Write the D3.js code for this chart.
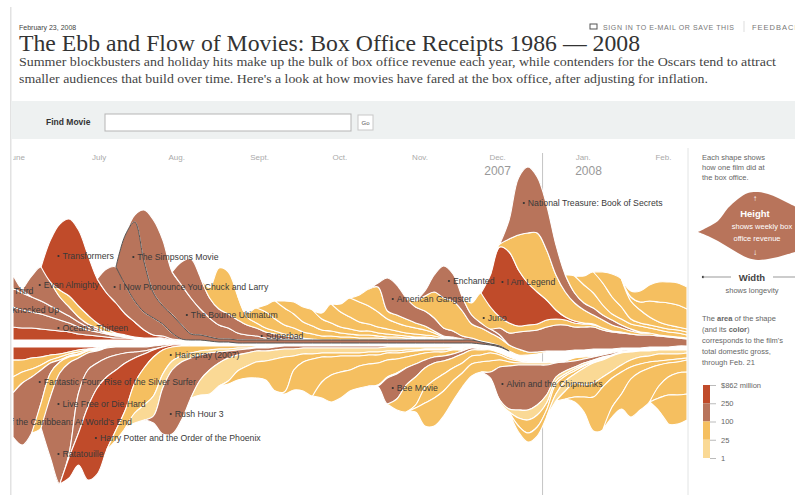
<!DOCTYPE html>
<html>
<head>
<meta charset="utf-8">
<script src="https://cdn.jsdelivr.net/npm/d3@7"></script>
<style>
  html, body { margin: 0; background: #fff; overflow: hidden; }
  svg { display: block; }
  text { font-family: "Liberation Sans", Arial, sans-serif; }
  .serif { font-family: "Liberation Serif", Georgia, serif; }
</style>
</head>
<body>
<div id="container"></div>
<script>
let w = 795;
let h = 495;

// half-week samples, Jun 17 2007 -> Feb 24 2008
let firstWeek = new Date(2007, 5, 17);
let weeks = d3.range(73).map(i => d3.timeHour.offset(firstWeek, i * 84));

let monthDates = ["2007-06-18", "2007-07-19", "2007-08-17", "2007-09-17", "2007-10-17", "2007-11-16", "2007-12-15", "2008-01-16", "2008-02-15"];
let monthNames = ["June", "July", "Aug.", "Sept.", "Oct.", "Nov.", "Dec.", "Jan.", "Feb."];
let yearDates = ["2007-12-15", "2008-01-18"];
let yearNames = ["2007", "2008"];

// white ribbon down the middle of the stream ($ million from the centre)
let upperFloor = [5,5,5,5,5,5,5,5,5,5,5,5,5,5,5,5,5,5,5,5,5,4,3,3,2,2,2,2,2,2,2,2,2,2,2,2,2,2,2,2,2,2,2,2,2,2,2,2,2,2,1,0,-2,-6,-10,-10,-9,-7,-6,-6,-5,-5,-4,-4,-4,-3,-3,-3,-2,-2,-2,-1,-1];
let lowerFloor = [-2,-2,-2,-2,-2,-2,-2,-2,-2,-2,-2,-2,-2,-2,-2,-1,0,1,0,-1,-1,-1,-1,-1,-1,-1,-1,-1,-1,-1,-1,-1,-1,-1,-1,-1,-1,-1,-1,-1,-1,-1,-1,-1,-1,-1,-1,-1,-1,-1,-3,-5,-8,-12,-15,-17,-17,-17,-17,-16,-13,-12,-11,-9,-7,-6,-5,-5,-5,-5,-5,-5,-5];

// films above the centre, earliest release first
let upperNames = ["Spider-Man 3", "Knocked Up", "Shrek the Third", "Ocean's Thirteen", "Evan Almighty", "Sicko", "Transformers", "I Now Pronounce You Chuck and Larry", "The Simpsons Movie", "The Bourne Ultimatum", "Superbad", "Stardust", "Underdog", "Balls of Fury", "3:10 to Yuma", "The Game Plan", "Michael Clayton", "Saw IV", "American Gangster", "Beowulf", "Enchanted", "Charlie Wilson's War", "Juno", "I Am Legend", "The Golden Compass", "National Treasure: Book of Secrets", "The Bucket List", "Cloverfield", "27 Dresses", "Meet the Spartans", "Jumper"];
let upperStarts = [0, 0, 0, 0, 2, 5, 4, 10, 12, 13, 18, 21, 25, 27, 29, 33, 35, 37, 39, 43, 44, 52, 49, 51, 52, 53, 60, 61, 63, 66, 66];
let upperGross = [336, 148, 240, 117, 100, 60, 318, 120, 183, 227, 121, 38, 43, 32, 53, 90, 49, 63, 130, 82, 127, 120, 90, 256, 70, 212, 83, 79, 76, 37, 80];
let upperWeekly = [
  [13,12,12,11,10,9,8,6,5,4,3,2,2,1,1,1,1],
  [20,18,16,15,13,11,9,7,5,4,3,2,1,1,1,1,1],
  [19,17,15,13,11,9,7,5,3,2,1,1,1,1],
  [13,3],
  [21,34,24,14,9,5,3,2,1,1],
  [7,11,11,9,5,3,1,1],
  [42,66,77,76,60,44,36,30,21,15,8,3,2,1],
  [24,36,29,21,18,17,12,6,1],
  [50,79,50,25,18,18,14,6,5,4,3,3,3,3,3,3,3,3,3,3,3,3,3,3,3,3,3,3,3,3,3,3,3,3,3,3,3,3,2,1,1],
  [7,52,73,66,43,40,36,26,19,14,11,7,5,4,2,2,1,1],
  [23,39,32,20,16,14,13,10,8,6,4,3,2,1,1],
  [10,41,42,24,8,5,4,3,2,2,1],
  [4,15,16,12,9,7,6,5,4,4,3,3,2,2,2,1,1,1,1,1],
  [7,18,17,14,10,8,6,5,4,3,3,3,2,2,2,1,1,1,1,1],
  [7,12,15,16,11,8,6,5,4,4,3,3,2,2,1,1,1],
  [6,19,15,12,9,7,6,5,4,3,3,2,2,1,1],
  [8,19,20,18,15,10,8,7,6,5,3,1,1],
  [7,17,25,8,8,7,5,4,2,1,1,1],
  [4,33,30,21,16,15,13,8,6,3,2,1,1],
  [6,15,26,30,30,25,14,13,10,8,6,6,3,2,1],
  [5,17,32,27,14,9,5,4,3],
  [7,12,17,21,22,24,26,26,23,23,22,19,17,15,14,13,12,11,10,8,7],
  [12,30,22,11,10,6,6,6,7,6,5,4,3,2,2,1,1],
  [32,70,71,56,42,32,20,9,3,2,1,1],
  [3,13,35,50,59,50,35,25,18,13,9,8,6,4,3,2,2,1,1,1,1],
  [19,57,66,56,45,30,17,10,7,7,5,5,3,2,1],
  [17,18,15,10,6,6,5,6,5,5,4,4,3],
  [9,21,22,17,12,5,3,3,3,3,3,3],
  [11,23,28,18,13,8,5,4,3,3],
  [4,8,16,20,22,22,20],
  [6,11,16,20,21,22,22]
];

// films below the centre
let lowerNames = ["Pirates opening", "Georgia Rule", "Waitress", "Pirates of the Caribbean: At World's End", "Fantastic Four: Rise of the Silver Surfer", "Ratatouille", "Live Free or Die Hard", "Harry Potter and the Order of the Phoenix", "Hairspray", "License to Wed", "Rush Hour 3", "The Nanny Diaries", "The Brave One", "Good Luck Chuck", "The Heartbreak Kid", "Dan in Real Life", "Bee Movie", "Fred Claus", "This Christmas", "August Rush", "Alvin and the Chipmunks", "P.S. I Love You", "Sweeney Todd", "Atonement", "First Sunday", "Mad Money", "The Water Horse", "Rambo", "Untraceable", "Hannah Montana", "Fool's Gold"];
let lowerStarts = [0, 0, 0, 0, 3, 4, 6, 6, 11, 13, 15, 20, 23, 29, 33, 39, 39, 41, 43, 43, 51, 52, 54, 54, 58, 59, 60, 64, 69, 69, 69];
let lowerGross = [336, 48, 40, 240, 90, 206, 134, 292, 90, 20, 140, 20, 36, 35, 36, 47, 126, 72, 49, 31, 217, 20, 52, 50, 20, 60, 40, 42, 28, 65, 70];
let lowerWeekly = [
  [13,13,11,10,8,7,5,3,2,1],
  [17,12,11,8,5,3,2,2,1,1],
  [16,11,8,5,3,3,2,2,1,1],
  [44,62,56,33,10,2,1,1],
  [25,24,11,6,3,2,1,1],
  [61,111,90,35,17,12,10,8,6,5,4,3,2,1],
  [4,40,37,25,19,15,10,6,3,1],
  [21,32,73,86,73,60,47,25,14,7,3,2,1],
  [10,18,30,37,39,24,14,10,7,5,4,3,3,2,2,1,1],
  [10,15,20,14,9,6,5,4,3,3,2,2,1,1,1,1],
  [7,46,64,58,40,25,17,11,7,5,4,3,3,3,3,3,2,2,2,2,2,2,2,2,2,1,1,1,1,1,1,1,1,1],
  [15,24,23,23,16,13,11,10,9,8,7,6,6,5,5,5,5,5,4,4,4,4,3,3,2,2,2,1,1,1,1],
  [3,9,12,16,19,32,35,14,8,5,4,4,3,3,3,3,3,2,2,2,1,1,1,1,1,1],
  [2,20,29,37,25,18,16,14,10,9,8,7,6,5,4,3,2,2,1,1,1],
  [16,27,26,21,22,22,22,17,14,11,9,7,5,4,4,1],
  [1,1,1],
  [1,26,25,17,13,8,6,5,4,3,2,1],
  [11,27,28,20,17,13,10,9,6,5,3,2,2,1],
  [3,15,18,17,13,10,8,7,8,5,3,2,1,1,1],
  [4,23,28,25,20,14,12,10,11,7,4,2,2,2,2,1,1,3,2,1,1,1],
  [6,33,43,45,45,40,30,14,9,6,4,3,2,2,1,1,1,1],
  [2,3,8,10,10,8,4,3,2,2,1,1,1,1,1],
  [8,13,12,7,3,2,2,1,1,1],
  [6,9,9,7,10,5,3,2,1,1],
  [7,10,9,17,20,17,15,12,8,6,5,4,4,4,3],
  [8,14,12,14,10,7,7,7,7,6,7,6,5,5],
  [5,15,34,43,29,22,12,8,6,4,3,3,2],
  [10,15,38,38,34,21,14,11,12],
  [12,18,22,22],
  [13,29,29,26],
  [1]
];

let labelNames = ["Shrek the Third", "Knocked Up", "Ocean's Thirteen", "Transformers", "Evan Almighty", "I Now Pronounce You Chuck and Larry", "The Simpsons Movie", "The Bourne Ultimatum", "Superbad", "American Gangster", "Enchanted", "Juno", "I Am Legend", "National Treasure: Book of Secrets", "Fantastic Four: Rise of the Silver Surfer", "Live Free or Die Hard", "Pirates of the Caribbean: At World's End", "Ratatouille", "Harry Potter and the Order of the Phoenix", "Rush Hour 3", "Hairspray (2007)", "Bee Movie", "Alvin and the Chipmunks"];
let labelDates = ["2007-06-01", "2007-06-15", "2007-07-04", "2007-07-04", "2007-06-27", "2007-07-25", "2007-08-01", "2007-08-21", "2007-09-18", "2007-11-06", "2007-11-27", "2007-12-10", "2007-12-17", "2007-12-25", "2007-06-27", "2007-07-04", "2007-06-02", "2007-07-04", "2007-07-18", "2007-08-15", "2007-08-15", "2007-11-06", "2007-12-17"];
let labelLevels = [54, 35, 17, 89, 60, 58, 88, 30, 9, 46, 64, 27, 63, 142, -37, -59, -77, -109, -93, -69, -10, -43, -39];

let grossBreaks = [25, 100, 250];
let grossTicks = ["$862 million", "250", "100", "25", "1"];

// sample film in the sidebar
let sampleDays = [0, 1, 2, 3, 4, 5, 6, 7, 8, 9, 10];
let sampleTop = [0, 5, 11, 24, 33, 39, 40, 38, 34, 29, 24];
let sampleBottom = [0, 4, 9, 15, 21, 26, 28, 27, 25, 22, 19];

let parseDate = d3.timeParse("%Y-%m-%d");
let red = "#c04b2a", brown = "#b8745b", yellow = "#f5bf60", pale = "#fad995";

let svg = d3.select("#container")
  .append("svg")
  .attr("width", w)
  .attr("height", h)
  .style("background-color", "#fff");

let xScale = d3.scaleTime()
  .domain([firstWeek, weeks[72]])
  .range([13, 687]);

let yScale = d3.scaleLinear()
  .domain([-150, 180])
  .range([495, 165]);

let grossColor = d3.scaleThreshold()
  .domain(grossBreaks)
  .range([pale, yellow, brown, red]);

svg.append("defs").append("clipPath")
  .attr("id", "plot")
  .append("rect")
  .attr("x", 13).attr("y", 140).attr("width", 674).attr("height", 355);

// page furniture
svg.append("rect").attr("x", 10).attr("y", 7).attr("width", 1.5).attr("height", 488).attr("fill", "#e2e2e2");
svg.append("rect").attr("x", 11).attr("y", 101).attr("width", w - 11).attr("height", 38).attr("fill", "#eef1f1");
svg.append("rect").attr("x", 105).attr("y", 114).attr("width", 246).attr("height", 17).attr("fill", "#fff").attr("stroke", "#b5b5b5");
svg.append("rect").attr("x", 358).attr("y", 115).attr("width", 15).attr("height", 15).attr("fill", "#fff").attr("stroke", "#c8c8c8");
svg.append("line").attr("x1", 688).attr("x2", 688).attr("y1", 148).attr("y2", 495).attr("stroke", "#e2e4e4");
svg.append("line").attr("x1", 744).attr("x2", 744).attr("y1", 21).attr("y2", 32).attr("stroke", "#ddd");
svg.append("rect").attr("x", 590).attr("y", 24).attr("width", 7).attr("height", 5).attr("fill", "none").attr("stroke", "#555");

svg.append("text").attr("x", 19).attr("y", 30).attr("font-size", 7).attr("fill", "#444").text("February 23, 2008");
svg.append("text").attr("x", 603).attr("y", 30).attr("font-size", 7).attr("fill", "#777").attr("textLength", 131).text("SIGN IN TO E-MAIL OR SAVE THIS");
svg.append("text").attr("x", 752).attr("y", 30).attr("font-size", 7.5).attr("letter-spacing", 1).attr("fill", "#777").text("FEEDBACK");
svg.append("text").attr("class", "serif").attr("x", 19).attr("y", 51).attr("font-size", 23).attr("fill", "#333")
  .attr("textLength", 621).attr("lengthAdjust", "spacingAndGlyphs")
  .text("The Ebb and Flow of Movies: Box Office Receipts 1986 \u2014 2008");
svg.append("text").attr("class", "serif").attr("x", 19).attr("y", 66).attr("font-size", 12.5).attr("fill", "#444")
  .attr("textLength", 757).attr("lengthAdjust", "spacingAndGlyphs")
  .text("Summer blockbusters and holiday hits make up the bulk of box office revenue each year, while contenders for the Oscars tend to attract");
svg.append("text").attr("class", "serif").attr("x", 19).attr("y", 83).attr("font-size", 12.5).attr("fill", "#444")
  .attr("textLength", 689).attr("lengthAdjust", "spacingAndGlyphs")
  .text("smaller audiences that build over time. Here's a look at how movies have fared at the box office, after adjusting for inflation.");
svg.append("text").attr("x", 46).attr("y", 125).attr("font-size", 8.5).attr("font-weight", "bold").attr("fill", "#333").text("Find Movie");
svg.append("text").attr("x", 365.5).attr("y", 125).attr("font-size", 6).attr("text-anchor", "middle").attr("fill", "#555").text("Go");

// year line sits behind the stream
svg.append("line")
  .attr("x1", xScale(new Date(2008, 0, 1))).attr("x2", xScale(new Date(2008, 0, 1)))
  .attr("y1", 153).attr("y2", 495)
  .attr("stroke", "#c4c4c4");

let plot = svg.append("g").attr("clip-path", "url(#plot)");

// months and years along the top
let monthAxis = plot.append("g")
  .attr("transform", "translate(0,163)")
  .call(d3.axisTop(xScale)
    .tickValues(monthDates.map(parseDate))
    .tickSize(0)
    .tickFormat((d, i) => monthNames[i]));
monthAxis.select(".domain").remove();
monthAxis.selectAll("text").attr("font-size", 8).attr("fill", "#aaa").style("font-family", "'Liberation Sans'");

let yearAxis = plot.append("g")
  .attr("transform", "translate(0,178)")
  .call(d3.axisTop(xScale)
    .tickValues(yearDates.map(parseDate))
    .tickSize(0)
    .tickFormat((d, i) => yearNames[i]));
yearAxis.select(".domain").remove();
yearAxis.selectAll("text").attr("font-size", 12).attr("fill", "#999").style("font-family", "'Liberation Sans'");

function drawSide(starts, gross, weekly, floor, sign, names) {
  let stack = d3.stack()
    .keys(d3.range(weekly.length))
    .value((i, k) => weekly[k][i - starts[k]] || 0);
  let layers = stack(d3.range(weeks.length));

  let area = d3.area()
    .curve(d3.curveCatmullRom.alpha(0.5))
    .x(d => xScale(weeks[d.data]))
    .y0(d => yScale(floor[d.data] + sign * d[0]))
    .y1(d => yScale(floor[d.data] + sign * d[1]));

  layers.forEach((layer, k) => {
    let from = Math.max(0, starts[k] - 1);
    let to = Math.min(72, starts[k] + weekly[k].length);
    let highlighted = names[k] == "The Simpsons Movie";
    plot.append("path")
      .datum(layer.slice(from, to + 1))
      .attr("class", highlighted ? "picked" : "film")
      .attr("fill", grossColor(gross[k]))
      .attr("stroke", "#fff")
      .attr("stroke-width", 1.1)
      .attr("d", area);
  });

  // picked film gets a dark outline on top of its neighbours
  plot.selectAll(".picked").raise().attr("stroke", "#555").attr("stroke-width", 1);
}

drawSide(upperStarts, upperGross, upperWeekly, upperFloor, 1, upperNames);
drawSide(lowerStarts, lowerGross, lowerWeekly, lowerFloor, -1, lowerNames);

// film labels
let labels = plot.append("g").selectAll("g")
  .data(labelNames)
  .join("g")
  .attr("transform", (d, i) => "translate(" + xScale(parseDate(labelDates[i])) + "," + yScale(labelLevels[i]) + ")");
labels.append("circle").attr("r", 1.1).attr("fill", "#333");
labels.append("text")
  .attr("x", 4).attr("y", 3)
  .attr("font-size", 8.7)
  .attr("fill", "#3a3a3a")
  .text(d => d);

// sidebar
let side = svg.append("g").attr("font-size", 7.5).attr("fill", "#666");
["Each shape shows", "how one film did at", "the box office."].forEach((t, i) => {
  side.append("text").attr("x", 702).attr("y", 160 + i * 10).text(t);
});

let sampleX = d3.scaleLinear().domain([0, 10]).range([698, 798]);
let sampleY = d3.scaleLinear().domain([-40, 40]).range([272, 192]);
let sampleArea = d3.area()
  .curve(d3.curveCatmullRom.alpha(0.5))
  .x(d => sampleX(d))
  .y0(d => sampleY(-sampleBottom[d]))
  .y1(d => sampleY(sampleTop[d]));
svg.append("path").datum(sampleDays).attr("fill", brown).attr("d", sampleArea);

svg.append("text").attr("x", 755).attr("y", 201).attr("font-size", 8).attr("text-anchor", "middle").attr("fill", "#fff").text("\u2191");
svg.append("text").attr("x", 755).attr("y", 217).attr("font-size", 9.5).attr("font-weight", "bold").attr("text-anchor", "middle").attr("fill", "#fff").text("Height");
svg.append("text").attr("x", 762).attr("y", 229).attr("font-size", 7.5).attr("text-anchor", "middle").attr("fill", "#fff").text("shows weekly box");
svg.append("text").attr("x", 757).attr("y", 241).attr("font-size", 7.5).attr("text-anchor", "middle").attr("fill", "#fff").text("office revenue");
svg.append("text").attr("x", 755).attr("y", 255).attr("font-size", 8).attr("text-anchor", "middle").attr("fill", "#fff").text("\u2193");

svg.append("circle").attr("cx", 703).attr("cy", 277).attr("r", 1.2).attr("fill", "#444");
svg.append("line").attr("x1", 703).attr("x2", 731).attr("y1", 277).attr("y2", 277).attr("stroke", "#999");
svg.append("line").attr("x1", 773).attr("x2", 795).attr("y1", 277).attr("y2", 277).attr("stroke", "#999");
svg.append("text").attr("x", 752).attr("y", 281).attr("font-size", 9.5).attr("font-weight", "bold").attr("text-anchor", "middle").attr("fill", "#444").text("Width");
side.append("text").attr("x", 752).attr("y", 293).attr("text-anchor", "middle").text("shows longevity");

let areaLine = side.append("text").attr("x", 702).attr("y", 321);
areaLine.append("tspan").text("The ");
areaLine.append("tspan").attr("font-weight", "bold").text("area");
areaLine.append("tspan").text(" of the shape");
let colorLine = side.append("text").attr("x", 702).attr("y", 332);
colorLine.append("tspan").text("(and its ");
colorLine.append("tspan").attr("font-weight", "bold").text("color");
colorLine.append("tspan").text(")");
["corresponds to the film's", "total domestic gross,", "through Feb. 21"].forEach((t, i) => {
  side.append("text").attr("x", 702).attr("y", 343 + i * 11).text(t);
});

// gross legend
let legendY = d3.scalePoint().domain(grossTicks).range([385, 458]);
let legendColors = [red, brown, yellow, pale];
svg.append("g").selectAll("rect")
  .data(grossTicks.slice(0, 4))
  .join("rect")
  .attr("x", 703).attr("width", 7)
  .attr("y", d => legendY(d))
  .attr("height", legendY.step())
  .attr("fill", (d, i) => legendColors[i]);

let legendAxis = svg.append("g")
  .attr("transform", "translate(710,0)")
  .call(d3.axisRight(legendY).tickSize(6).tickPadding(5));
legendAxis.select(".domain").remove();
legendAxis.selectAll("line").attr("stroke", "#bbb");
legendAxis.selectAll("text").attr("font-size", 7.5).attr("fill", "#666").style("font-family", "'Liberation Sans'");
</script>
</body>
</html>
